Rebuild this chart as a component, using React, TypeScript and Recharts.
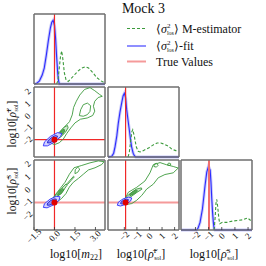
import React from "react";
import { ComposedChart, Line, Scatter, XAxis, YAxis, ReferenceLine } from "recharts";

type Pt = { x: number; y: number };
const pts = (a: number[][]): Pt[] => a.map(([x, y]) => ({ x, y }));

const TRUE_M22 = 0;
const TRUE_RHO_F = -1.9;
const TRUE_RHO_S = -0.97;

const M22_RANGE = [-1.5, 3.7];
const RHO_F_RANGE = [-3.3, 2.35];
const RHO_S_RANGE = [-3.1, 2.3];
const PDF_RANGE = [0, 1.1];

const M22_TICKS = [-1.5, 0, 1.5, 3];
const RHO_TICKS = [-2, -1, 0, 1, 2];
const PDF_TICKS = [0, 0.2, 0.4, 0.6, 0.8, 1.0];

const m22Fit = pts([[-1.5, 0], [-1.3, 0.01], [-1.1, 0.05], [-0.9, 0.14], [-0.75, 0.25], [-0.6, 0.45], [-0.45, 0.68], [-0.3, 0.88], [-0.2, 0.97], [-0.1, 1.0], [0.0, 0.92], [0.08, 0.72], [0.16, 0.42], [0.24, 0.16], [0.3, 0.05], [0.36, 0], [3.7, 0]]);
const m22Mest = pts([[0.15, 0], [0.25, 0.05], [0.35, 0.25], [0.45, 0.45], [0.53, 0.52], [0.62, 0.38], [0.72, 0.18], [0.85, 0.06], [1.0, 0.04], [1.2, 0.08], [1.45, 0.14], [1.7, 0.2], [2.0, 0.25], [2.25, 0.27], [2.5, 0.25], [2.8, 0.18], [3.1, 0.1], [3.4, 0.05], [3.65, 0.02]]);

const rhoFFit = pts([[-3.3, 0], [-3.0, 0.01], [-2.85, 0.06], [-2.74, 0.16], [-2.6, 0.33], [-2.48, 0.53], [-2.35, 0.7], [-2.21, 0.85], [-2.1, 0.96], [-2.0, 1.0], [-1.9, 0.93], [-1.81, 0.74], [-1.7, 0.57], [-1.6, 0.42], [-1.5, 0.26], [-1.42, 0.16], [-1.3, 0.06], [-1.2, 0.02], [-1.1, 0], [2.35, 0]]);
const rhoFMest = pts([[-1.7, 0], [-1.6, 0.08], [-1.5, 0.25], [-1.4, 0.4], [-1.33, 0.43], [-1.2, 0.32], [-1.05, 0.16], [-0.9, 0.09], [-0.75, 0.08], [-0.5, 0.1], [-0.3, 0.12], [0.0, 0.15], [0.3, 0.19], [0.6, 0.22], [0.9, 0.22], [1.2, 0.2], [1.5, 0.17], [1.8, 0.12], [2.1, 0.1], [2.3, 0.09]]);

const rhoSFit = pts([[-3.1, 0], [-1.9, 0], [-1.8, 0.03], [-1.65, 0.12], [-1.47, 0.33], [-1.35, 0.55], [-1.27, 0.7], [-1.14, 0.91], [-1.01, 1.0], [-0.88, 0.94], [-0.82, 0.75], [-0.76, 0.49], [-0.7, 0.28], [-0.64, 0.12], [-0.58, 0.02], [-0.52, 0], [2.3, 0]]);
const rhoSMest = pts([[-0.58, 0], [-0.5, 0.2], [-0.44, 0.42], [-0.38, 0.48], [-0.3, 0.35], [-0.22, 0.18], [-0.15, 0.1], [0.05, 0.12], [0.4, 0.12], [0.82, 0.14], [1.2, 0.15], [1.58, 0.16], [1.96, 0.19], [2.2, 0.15]]);

const mF_gOuter = pts([[-0.3, -2.15], [0.0, -1.75], [0.35, -1.3], [0.75, -0.85], [1.1, -0.45], [1.3, 0.1], [1.4, 0.7], [1.6, 1.2], [1.85, 1.7], [2.2, 2.15], [2.6, 2.3], [2.95, 2.05], [3.3, 1.75], [3.5, 1.6], [3.2, 1.5], [2.95, 1.2], [2.85, 0.8], [2.95, 0.4], [2.8, 0.05], [2.4, -0.15], [1.9, -0.25], [1.5, -0.55], [1.2, -0.95], [0.9, -1.4], [0.65, -1.85], [0.35, -2.15], [0.0, -2.3]]);
const mF_gMid = pts([[0.2, -1.85], [0.45, -1.7], [0.8, -1.3], [1.0, -0.95], [0.95, -0.75], [0.7, -0.9], [0.4, -1.3], [0.2, -1.65]]);
const mF_gLoop = pts([[1.82, 0.04], [1.92, 0.52], [2.11, 0.92], [2.41, 1.05], [2.65, 0.84], [2.6, 0.38], [2.41, 0.12], [2.11, -0.01]]);
const mF_gCore = pts([[0.4, -1.55], [0.6, -1.45], [0.75, -1.2], [0.7, -1.05], [0.5, -1.2], [0.38, -1.4]]);
const mF_bOuter = pts([[0.54, -1.41], [0.44, -1.65], [0.01, -2.09], [-0.51, -2.4], [-0.82, -2.4], [-0.73, -2.08], [-0.3, -1.64], [0.23, -1.33]]);
const mF_bInner = pts([[0.23, -1.62], [0.18, -1.75], [-0.06, -1.99], [-0.35, -2.16], [-0.52, -2.16], [-0.47, -1.98], [-0.23, -1.74], [0.06, -1.57]]);

const mS_gOuter = pts([[-0.33, -0.96], [0.04, -0.41], [0.4, 0.08], [0.77, 0.58], [1.09, 1.2], [1.43, 1.7], [2.0, 1.88], [2.6, 2.08], [3.21, 2.23], [3.63, 2.17], [3.46, 1.95], [2.97, 1.7], [2.48, 1.53], [2.11, 1.2], [1.75, 0.88], [1.38, 0.58], [1.09, 0.21], [0.84, -0.29], [0.53, -0.66], [0.16, -0.96], [-0.13, -1.11]]);
const mS_gMid = pts([[0.02, -0.62], [0.3, -0.45], [0.65, -0.05], [0.92, 0.35], [0.85, 0.45], [0.55, 0.15], [0.2, -0.25], [-0.02, -0.55]]);
const mS_gStrand = pts([[0.95, 0.4], [1.2, 0.7], [1.45, 1.0], [1.4, 1.05], [1.15, 0.75], [0.9, 0.45]]);
const mS_gLoop = pts([[1.5, 1.25], [1.7, 1.35], [1.85, 1.6], [1.7, 1.75], [1.52, 1.55]]);
const mS_gCore = pts([[0.25, -0.45], [0.5, -0.3], [0.7, 0.0], [0.62, 0.1], [0.4, -0.1], [0.22, -0.35]]);
const mS_bOuter = pts([[0.41, -0.54], [0.33, -0.81], [-0.06, -1.16], [-0.54, -1.39], [-0.81, -1.36], [-0.74, -1.08], [-0.34, -0.73], [0.13, -0.5]]);
const mS_bInner = pts([[0.14, -0.72], [0.09, -0.87], [-0.12, -1.07], [-0.39, -1.19], [-0.54, -1.18], [-0.5, -1.02], [-0.28, -0.83], [-0.02, -0.7]]);

const FS_gOuter = pts([[-2.08, -0.93], [-1.68, -0.19], [-1.02, 0.19], [-0.36, 0.68], [0.04, 1.31], [0.3, 1.93], [0.84, 2.1], [1.37, 1.93], [1.89, 1.8], [2.29, 1.68], [1.89, 1.31], [1.23, 1.18], [0.7, 0.93], [0.3, 0.43], [-0.22, 0.06], [-0.62, -0.44], [-1.02, -0.81], [-1.41, -1.06], [-1.81, -1.13]]);
const FS_gMid = pts([[-1.85, -0.68], [-1.5, -0.55], [-1.0, -0.2], [-0.6, 0.05], [-0.65, 0.15], [-1.05, 0.05], [-1.55, -0.3], [-1.85, -0.55]]);
const FS_gLoopA = pts([[0.35, 1.8], [0.55, 1.75], [0.7, 1.9], [0.55, 2.05], [0.38, 1.98]]);
const FS_gLoopB = pts([[1.45, 1.9], [1.65, 1.88], [1.7, 2.0], [1.55, 2.07], [1.45, 2.0]]);
const FS_gCore = pts([[-1.55, -0.45], [-1.2, -0.3], [-0.95, -0.1], [-1.05, 0.0], [-1.35, -0.15], [-1.6, -0.35]]);
const FS_bOuter = pts([[-1.41, -0.63], [-1.5, -0.86], [-1.87, -1.12], [-2.31, -1.25], [-2.56, -1.19], [-2.47, -0.95], [-2.1, -0.7], [-1.66, -0.56]]);
const FS_bInner = pts([[-1.67, -0.76], [-1.72, -0.88], [-1.92, -1.03], [-2.17, -1.1], [-2.3, -1.06], [-2.25, -0.93], [-2.05, -0.79], [-1.81, -0.72]]);

const COL_X = [34, 108, 181];
const ROW_Y = [14, 87, 160];
const W = 71;
const H = 70;
const PAD = 20;
const SERIF = '"Liberation Serif", "Times New Roman", serif';

const GREEN = "#3c9a3c";
const BLUE = "#2b2bff";
const RED = "#f02828";
const PINK = "#f59a9a";

const fmtM22 = (v: number) => v.toFixed(1).replace("-", "\u2212");
const fmtRho = (v: number) => String(v).replace("-", "\u2212");

const RotText = ({ x, y, label }: { x: number; y: number; label: string }) => (
  <text x={x} y={y} transform={`rotate(-45 ${x} ${y})`} textAnchor="middle" dominantBaseline="central" fontSize={9} fontFamily={SERIF} fill="#111">
    {label}
  </text>
);

const contour = (data: Pt[], stroke: string, fill = "none", width = 0.9) => (
  <Scatter data={data} line={{ stroke, strokeWidth: width, fill }} lineJointType="linearClosed" shape={() => <g />} isAnimationActive={false} />
);

const trueDot = (x: number, y: number) => (
  <Scatter data={[{ x, y }]} shape={(p: any) => <circle cx={p.cx} cy={p.cy} r={3} fill="#e00000" />} isAnimationActive={false} />
);

// strip left of a row that carries its y tick labels, on the same y scale as the row
function YLabels({ row, domain, ticks, fmt }: { row: number; domain: number[]; ticks: number[]; fmt: (v: number) => string }) {
  return (
    <div style={{ position: "absolute", left: COL_X[0] - 16, top: ROW_Y[row], zIndex: 5 }}>
      <ComposedChart width={16} height={H} margin={{ top: 0, right: 0, bottom: 0, left: 0 }}>
        <XAxis dataKey="x" type="number" domain={[0, 1]} hide />
        <YAxis dataKey="y" type="number" domain={domain} hide />
        <Scatter data={ticks.map((t) => ({ x: 0.6, y: t }))} isAnimationActive={false}
          shape={(p: any) => <RotText x={p.cx} y={p.cy} label={fmt(p.payload.y)} />} />
      </ComposedChart>
    </div>
  );
}

type PanelProps = {
  col: number;
  row: number;
  xDomain: number[];
  xTicks: number[];
  xFmt?: (v: number) => string;
  yDomain: number[];
  yTicks: number[];
  children: React.ReactNode;
};

function Panel({ col, row, xDomain, xTicks, xFmt, yDomain, yTicks, children }: PanelProps) {
  const frame = { stroke: "#6e6e6e", strokeWidth: 1.5 };
  const tl = { stroke: "#333", strokeWidth: 0.8 };
  return (
    <div style={{ position: "absolute", left: COL_X[col] - PAD, top: ROW_Y[row] - PAD }}>
      <ComposedChart width={W + 2 * PAD} height={H + 2 * PAD} margin={{ top: PAD - 1, right: PAD - 1, bottom: PAD - 1, left: PAD - 1 }}>
        <XAxis dataKey="x" type="number" domain={xDomain} ticks={xTicks} interval={0} height={1} tickSize={-3} tickMargin={9}
          axisLine={frame} tickLine={tl} tick={xFmt ? (p: any) => <RotText x={p.x} y={p.y} label={xFmt(p.payload.value)} /> : false} />
        <XAxis xAxisId="top" orientation="top" dataKey="x" type="number" domain={xDomain} ticks={xTicks} interval={0} height={1} tickSize={-3}
          axisLine={frame} tickLine={tl} tick={false} />
        <YAxis dataKey="y" type="number" domain={yDomain} ticks={yTicks} interval={0} width={1} tickSize={-3}
          axisLine={frame} tickLine={tl} tick={false} />
        <YAxis yAxisId="right" orientation="right" dataKey="y" type="number" domain={yDomain} ticks={yTicks} interval={0} width={1} tickSize={-3}
          axisLine={frame} tickLine={tl} tick={false} />
        {children}
      </ComposedChart>
    </div>
  );
}

const marginal = (fit: Pt[], mest: Pt[], truth: number, truthColor: string) => [
  <Line key="band" data={fit} dataKey="y" stroke="#a4a4f5" strokeOpacity={0.6} strokeWidth={3} dot={false} isAnimationActive={false} />,
  <Line key="fit" data={fit} dataKey="y" stroke={BLUE} strokeWidth={1.1} dot={false} isAnimationActive={false} />,
  <Line key="mest" data={mest} dataKey="y" stroke={GREEN} strokeWidth={1.1} strokeDasharray="3 2" dot={false} isAnimationActive={false} />,
  <ReferenceLine key="truth" x={truth} stroke={truthColor} strokeWidth={truthColor === RED ? 1.2 : 2} />,
];

const rhoLabel = (sup: string) => [
  "log10[",
  <tspan key="r" fontStyle="italic">{"\u03C1\u0304"}</tspan>,
  <tspan key="sup" fontSize={7} dy={-5}>{sup}</tspan>,
  <tspan key="sub" fontSize={6} dx={-3.5} dy={7}>sol</tspan>,
  <tspan key="end" dy={-2}>]</tspan>,
];

const sigmaLabel = (rest: string) => [
  "\u27E8",
  <tspan key="s" fontStyle="italic">σ</tspan>,
  <tspan key="sup" fontSize={7} dy={-5}>2</tspan>,
  <tspan key="sub" fontSize={6} dx={-3.5} dy={7}>los</tspan>,
  <tspan key="end" dy={-2}>{"\u27E9" + rest}</tspan>,
];

export default function App() {
  return (
    <div style={{ position: "absolute", left: 0, top: 0, width: 266, height: 266, background: "#fff", fontFamily: SERIF }}>
      <svg width={266} height={266} style={{ position: "absolute", left: 0, top: 0 }} fontFamily={SERIF} fill="#111">
        <text x={143.5} y={13} textAnchor="middle" fontSize={14}>Mock 3</text>

        <line x1={127} x2={146} y1={28.5} y2={28.5} stroke={GREEN} strokeWidth={1.1} strokeDasharray="3 2" />
        <line x1={127} x2={146} y1={46} y2={46} stroke="#6a6aff" strokeWidth={1.5} />
        <line x1={127} x2={146} y1={61.5} y2={61.5} stroke={PINK} strokeWidth={2} />
        <text x={156} y={32.5} fontSize={12}>{sigmaLabel(" M-estimator")}</text>
        <text x={156} y={49.5} fontSize={12}>{sigmaLabel("-fit")}</text>
        <text x={156} y={65.5} fontSize={12}>True Values</text>

        <text x={76} y={258} textAnchor="middle" fontSize={12}>
          log10[<tspan fontStyle="italic">m</tspan><tspan fontSize={8} dy={2}>22</tspan><tspan dy={-2}>]</tspan>
        </text>
        <text x={141} y={258} textAnchor="middle" fontSize={12}>{rhoLabel("F")}</text>
        <text x={214} y={258} textAnchor="middle" fontSize={12}>{rhoLabel("S")}</text>
        <text transform="translate(15.5,124) rotate(-90)" textAnchor="middle" fontSize={11.5}>{rhoLabel("F")}</text>
        <text transform="translate(15.5,191) rotate(-90)" textAnchor="middle" fontSize={11.5}>{rhoLabel("S")}</text>
      </svg>

      <Panel col={0} row={0} xDomain={M22_RANGE} xTicks={M22_TICKS} yDomain={PDF_RANGE} yTicks={PDF_TICKS}>
        {marginal(m22Fit, m22Mest, TRUE_M22, RED)}
      </Panel>
      <Panel col={0} row={1} xDomain={M22_RANGE} xTicks={M22_TICKS} yDomain={RHO_F_RANGE} yTicks={RHO_TICKS}>
        {contour(mF_gOuter, GREEN)}
        {contour(mF_gLoop, GREEN)}
        {contour(mF_gMid, GREEN, "#cfe7cf")}
        {contour(mF_gCore, GREEN, "#58a658")}
        {contour(mF_bOuter, BLUE, "#d2d2ff")}
        {contour(mF_bInner, "#1f1fcf", "#8a8af2")}
        <ReferenceLine x={TRUE_M22} stroke={RED} strokeWidth={1.2} />
        <ReferenceLine y={TRUE_RHO_F} stroke={RED} strokeWidth={1.2} />
        {trueDot(TRUE_M22, TRUE_RHO_F)}
      </Panel>
      <Panel col={1} row={1} xDomain={RHO_F_RANGE} xTicks={RHO_TICKS} yDomain={PDF_RANGE} yTicks={PDF_TICKS}>
        {marginal(rhoFFit, rhoFMest, TRUE_RHO_F, RED)}
      </Panel>
      <Panel col={0} row={2} xDomain={M22_RANGE} xTicks={M22_TICKS} xFmt={fmtM22} yDomain={RHO_S_RANGE} yTicks={RHO_TICKS}>
        {contour(mS_gOuter, GREEN)}
        {contour(mS_gStrand, GREEN)}
        {contour(mS_gLoop, GREEN)}
        {contour(mS_gMid, GREEN, "#cfe7cf")}
        {contour(mS_gCore, GREEN, "#58a658")}
        {contour(mS_bOuter, BLUE, "#d2d2ff")}
        {contour(mS_bInner, "#1f1fcf", "#8a8af2")}
        <ReferenceLine x={TRUE_M22} stroke={RED} strokeWidth={1.2} />
        <ReferenceLine y={TRUE_RHO_S} stroke={PINK} strokeWidth={2} />
        {trueDot(TRUE_M22, TRUE_RHO_S)}
      </Panel>
      <Panel col={1} row={2} xDomain={RHO_F_RANGE} xTicks={RHO_TICKS} xFmt={fmtRho} yDomain={RHO_S_RANGE} yTicks={RHO_TICKS}>
        {contour(FS_gOuter, GREEN)}
        {contour(FS_gLoopA, GREEN)}
        {contour(FS_gLoopB, GREEN)}
        {contour(FS_gMid, GREEN, "#cfe7cf")}
        {contour(FS_gCore, GREEN, "#58a658")}
        {contour(FS_bOuter, BLUE, "#d2d2ff")}
        {contour(FS_bInner, "#1f1fcf", "#8a8af2")}
        <ReferenceLine x={TRUE_RHO_F} stroke={RED} strokeWidth={1.2} />
        <ReferenceLine y={TRUE_RHO_S} stroke={PINK} strokeWidth={2} />
        {trueDot(TRUE_RHO_F, TRUE_RHO_S)}
      </Panel>
      <Panel col={2} row={2} xDomain={RHO_S_RANGE} xTicks={RHO_TICKS} xFmt={fmtRho} yDomain={PDF_RANGE} yTicks={PDF_TICKS}>
        {marginal(rhoSFit, rhoSMest, TRUE_RHO_S, "#f07070")}
      </Panel>

      <YLabels row={1} domain={RHO_F_RANGE} ticks={RHO_TICKS} fmt={fmtRho} />
      <YLabels row={2} domain={RHO_S_RANGE} ticks={RHO_TICKS} fmt={fmtRho} />
    </div>
  );
}
